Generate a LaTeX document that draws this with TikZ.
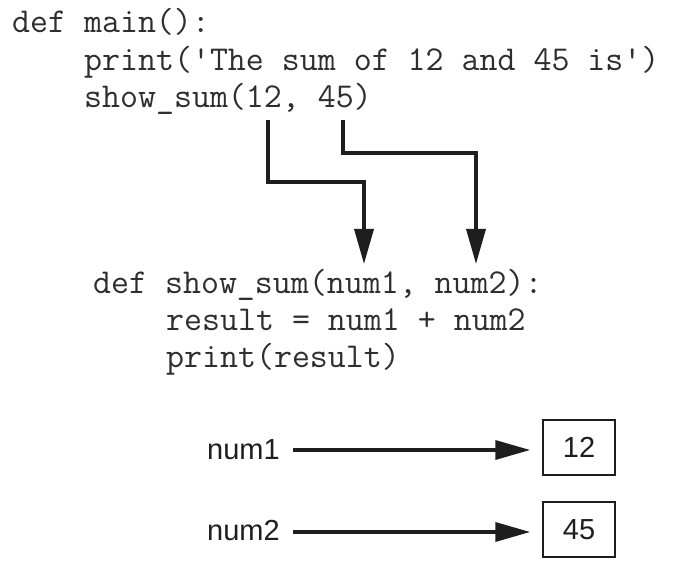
\documentclass[tikz,border=0pt]{standalone}
\usepackage{fontspec}
\setsansfont{Liberation Sans}
\usetikzlibrary{arrows.meta}
\definecolor{ink}{HTML}{1E1E1E}
\definecolor{codeink}{HTML}{2E2E2E}
\tikzset{
  code/.style={anchor=base west, inner sep=0pt, text=codeink, font=\fontsize{34.9}{40}\ttfamily},
  lbl/.style={anchor=base west, inner sep=0pt, text=ink, font=\fontsize{29}{34}\sffamily},
  valbox/.style={draw=ink, line width=1.5pt, minimum width=72pt, minimum height=55pt, inner sep=0pt, text=ink, font=\fontsize{29}{34}\sffamily},
  flow/.style={draw=ink, line width=3.5pt, -{Triangle[length=35pt,width=19pt]}},
}
\begin{document}
\begin{tikzpicture}[x=1pt,y=-1pt]
\useasboundingbox (0,0) rectangle (680,588);
\node[code] (l1) at (12,33) {def main():};
\node[code] (l2) at (84,71) {print(\textquotesingle The sum of 12 and 45 is\textquotesingle)};
\node[code] (l3) at (84,108) {show\_sum(12, 45)};
\node[code] (m1) at (93,293) {def show\_sum(num1, num2):};
\node[code] (m2) at (166,330) {result = num1 + num2};
\node[code] (m3) at (166,367) {print(result)};
\coordinate (a1s) at (268,120);
\coordinate (a1e) at (364,264);
\coordinate (a2s) at (343,120);
\coordinate (a2e) at (476,264);
\draw[flow] (a1s) |- (316,182) -| (a1e);
\draw[flow] (a2s) |- (410,153) -| (a2e);
\node[lbl] (n1) at (207,459) {num1};
\node[lbl] (n2) at (207,540) {num2};
\node[valbox] (b1) at (579,447.5) {12};
\node[valbox] (b2) at (579,529.5) {45};
\coordinate (n1e) at (293,450);
\coordinate (n2e) at (293,532);
\draw[flow, shorten >=12pt] (n1e) -- (n1e -| b1.west);
\draw[flow, shorten >=12pt] (n2e) -- (n2e -| b2.west);
\end{tikzpicture}
\end{document}
